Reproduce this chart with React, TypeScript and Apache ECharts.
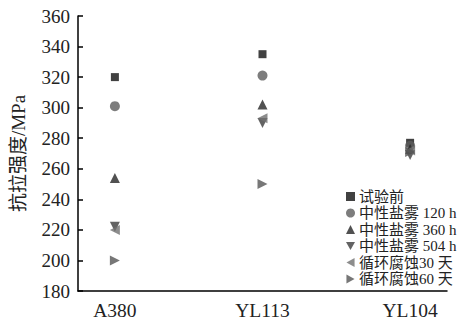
import React, { useEffect, useRef } from "react";
import * as echarts from "echarts";

const categories = ["A380", "YL113", "YL104"];
const seriesNames = ["试验前", "中性盐雾 120 h", "中性盐雾 360 h", "中性盐雾 504 h", "循环腐蚀30 天", "循环腐蚀60 天"];
const beforeTest = [320, 335, 277];
const salt120 = [301, 321, 275];
const salt360 = [254, 302, 273];
const salt504 = [222, 290, 269];
const cyc30 = [220, 293, 272];
const cyc60 = [200, 250, 271];
const yTicks = { min: 180, max: 360, interval: 20 };

const seriesValues = [beforeTest, salt120, salt360, salt504, cyc30, cyc60];
const symbols = [
  "rect",
  "circle",
  "triangle",
  "path://M0,0L10,0L5,9Z",
  "path://M10,0L10,10L1,5Z",
  "path://M0,0L0,10L9,5Z",
];
const colors = ["#111111", "#5c5c5c", "#262626", "#3c3c3c", "#707070", "#555555"];
const sizes = [8, 10, 10, 10, 10, 10];

const FONT = '"Liberation Serif", "Noto Sans CJK SC", serif';

export default function App() {
  const ref = useRef<HTMLDivElement>(null);
  useEffect(() => {
    if (!ref.current) return;
    const chart = echarts.init(ref.current, null, { renderer: "svg" });
    chart.setOption({
      animation: false,
      grid: { left: 78, right: 16, top: 16, bottom: 30 },
      legend: {
        orient: "vertical",
        left: 346,
        top: 189,
        padding: 0,
        itemWidth: 9,
        itemHeight: 9,
        itemGap: 1.5,
        data: seriesNames,
        textStyle: { fontFamily: FONT, fontSize: 15, color: "#222", lineHeight: 15, padding: [0, 0, 0, -1] },
      },
      xAxis: {
        type: "value",
        min: 0.75,
        max: 3.25,
        splitLine: { show: false },
        axisTick: { show: false },
        axisLine: { lineStyle: { color: "#000", width: 1.5 } },
        axisLabel: {
          customValues: [1, 2, 3],
          formatter: (v: number) => categories[Math.round(v) - 1] ?? "",
          fontFamily: FONT,
          fontSize: 19.5,
          color: "#222",
          margin: 10,
        },
      },
      yAxis: {
        type: "value",
        min: yTicks.min,
        max: yTicks.max,
        interval: yTicks.interval,
        name: "抗拉强度/MPa",
        nameLocation: "middle",
        nameGap: 50,
        nameTextStyle: { fontFamily: FONT, fontSize: 19, color: "#222" },
        splitLine: { show: false },
        axisLine: { show: true, lineStyle: { color: "#000", width: 1.5 } },
        axisTick: { show: true, inside: true, length: 5, lineStyle: { color: "#000", width: 1.5 } },
        axisLabel: { fontFamily: FONT, fontSize: 19, color: "#222", margin: 8 },
      },
      series: seriesNames.map((name, i) => ({
        name,
        type: "scatter",
        symbol: symbols[i],
        symbolSize: sizes[i],
        itemStyle: { color: colors[i] },
        data: seriesValues[i].map((v, j) => [j + 1, v]),
      })),
    });
    return () => chart.dispose();
  }, []);
  return <div ref={ref} style={{ width: 463, height: 321, position: "absolute", left: 0, top: 0, background: "#fff" }} />;
}
